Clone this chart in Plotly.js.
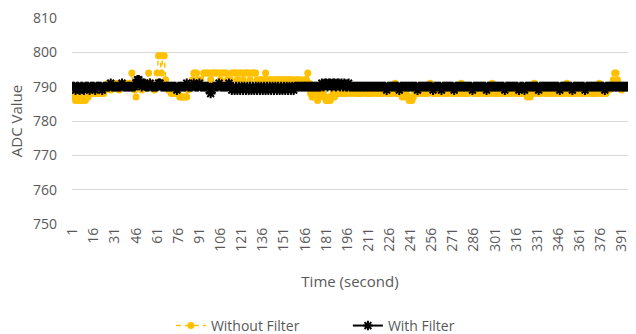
<!DOCTYPE html>
<html>
<head>
<meta charset="utf-8">
<script src="https://cdn.plot.ly/plotly-3.0.1.min.js"></script>
<style>html,body{margin:0;padding:0;background:#fff;}#chart{width:636px;height:334px;}</style>
</head>
<body>
<div id="chart"></div>
<script>
const withoutFilter = [
788,787,786,787,786,787,786,786,787,786,787,787,788,788,789,788,788,789,788,788,
789,788,788,789,790,791,790,789,790,791,790,791,790,789,790,791,790,791,790,791,
790,791,794,790,789,787,790,791,790,789,790,791,790,791,794,790,791,790,789,790,
794,799,799,794,799,799,792,790,789,789,788,789,788,788,789,788,787,787,787,787,
787,787,789,790,791,792,794,794,794,792,791,792,790,794,794,794,794,794,792,794,
794,794,794,794,794,792,794,794,794,794,792,791,792,794,794,794,794,792,794,794,
794,792,794,794,794,794,792,794,794,794,794,792,791,792,792,791,792,794,792,791,
792,792,791,792,792,791,792,792,792,791,792,792,791,792,792,792,791,792,791,792,
792,791,792,791,790,792,792,794,791,788,787,787,788,787,786,787,788,789,788,787,
786,786,787,786,787,788,787,788,789,788,789,788,789,788,789,788,789,789,788,789,
789,788,789,788,788,789,788,789,789,788,789,788,789,788,789,789,788,789,788,789,
788,789,790,788,789,788,789,788,789,791,788,789,788,788,787,788,787,788,787,786,
787,786,787,788,789,788,789,790,788,789,788,789,788,789,791,789,788,789,788,789,
788,789,790,788,789,788,789,788,790,789,788,789,788,789,788,789,791,788,789,788,
789,788,789,790,789,788,789,788,789,788,790,789,788,789,788,789,788,789,791,788,
789,788,789,788,789,790,788,789,788,789,788,789,788,790,789,788,789,788,789,788,
789,788,788,787,788,787,788,789,791,788,789,788,789,788,789,790,788,789,788,789,
788,789,788,790,789,788,789,788,789,788,789,791,788,789,788,789,788,789,788,790,
789,788,789,788,789,788,790,789,788,789,788,789,788,789,791,788,789,788,789,788,
790,789,790,790,792,794,794,792,790,790,789,790,790,790,790
];
const withFilter = [
790,790,789,790,790,789,790,790,789,790,790,790,789,790,790,790,789,790,790,790,
790,789,790,790,790,790,790,791,790,790,790,790,790,790,790,791,790,790,790,790,
790,790,790,790,790,791,792,792,791,790,791,791,790,790,790,791,790,790,790,790,
790,791,791,790,790,790,790,790,790,790,790,790,790,790,789,790,790,790,790,790,
790,791,790,790,790,790,791,790,790,790,791,790,790,790,790,790,790,789,788,789,
790,790,790,790,791,790,790,790,790,790,790,791,790,789,790,789,790,789,790,789,
790,789,790,789,790,789,790,789,790,789,790,789,790,789,790,789,790,789,790,789,
790,789,790,789,790,789,790,789,790,789,790,789,790,789,790,789,790,789,790,790,
790,790,790,790,790,790,790,790,790,790,790,790,790,790,790,790,790,791,790,791,
791,790,791,791,790,791,791,790,791,791,790,791,790,791,790,790,791,790,790,790,
790,790,790,790,790,790,790,790,790,790,790,790,790,790,790,790,790,790,790,790,
790,790,790,789,790,790,790,790,790,790,790,790,789,790,790,790,790,790,790,790,
790,790,790,790,790,789,790,790,790,790,790,790,790,790,790,790,789,790,790,790,
790,790,789,790,790,790,790,790,790,790,790,789,790,790,790,790,790,790,790,790,
790,790,790,790,789,790,790,790,790,790,790,790,790,790,789,790,790,790,790,790,
790,790,790,790,790,790,790,789,790,790,790,790,790,790,790,790,790,789,790,790,
790,789,790,790,790,790,790,790,790,790,790,789,790,790,790,790,790,790,790,790,
790,790,790,790,790,790,789,790,790,790,790,790,790,790,790,789,790,790,790,790,
790,790,790,790,789,790,790,790,790,790,790,790,790,790,790,790,790,790,789,790,
790,790,790,790,790,790,790,790,790,790,790,790,790,790,790
];
const xTickVals = [1,16,31,46,61,76,91,106,121,136,151,166,181,196,211,226,241,256,271,286,301,316,331,346,361,376,391];
const yTickVals = [750,760,770,780,790,800,810];

const seconds = withoutFilter.map((_, i) => i + 1);
const FONT = '"Open Sans", sans-serif';
const GREY = '#595959';

const traces = [
  {
    x: seconds, y: withoutFilter, name: 'Without Filter', type: 'scatter', mode: 'lines+markers',
    line: {color: '#FFC000', width: 1.5, dash: '5px,4px'},
    marker: {color: '#FFC000', size: 7, symbol: 'circle'}
  },
  {
    x: seconds, y: withFilter, name: 'With Filter', type: 'scatter', mode: 'lines+markers',
    line: {color: '#000000', width: 2},
    marker: {color: '#000000', size: 8, symbol: 'asterisk-open', line: {color: '#000000', width: 2}}
  }
];

const layout = {
  width: 636, height: 334,
  margin: {l: 72, r: 8, t: 18, b: 110, autoexpand: false},
  paper_bgcolor: '#ffffff', plot_bgcolor: '#ffffff',
  font: {family: FONT, size: 14, color: GREY},
  showlegend: true,
  legend: {orientation: 'h', x: 0.547, xref: 'container', xanchor: 'center', yref: 'container', y: 0.072, yanchor: 'top',
           font: {family: FONT, size: 14, color: GREY}, traceorder: 'normal',
           entrywidth: 132, entrywidthmode: 'pixels'},
  xaxis: {
    range: [0.5, withoutFilter.length + 0.5], tickmode: 'array', tickvals: xTickVals,
    ticktext: xTickVals.map(String), tickangle: -90, showgrid: false, zeroline: false,
    showline: false, ticks: '', tickfont: {family: FONT, size: 14, color: GREY},
    title: {text: 'Time (second)', font: {family: FONT, size: 15, color: GREY}, standoff: 25}
  },
  yaxis: {
    range: [750, 810], tickmode: 'array', tickvals: yTickVals, showgrid: true, gridcolor: '#D9D9D9',
    gridwidth: 1, zeroline: false, showline: false, ticks: '', ticklabelstandoff: 14,
    tickfont: {family: FONT, size: 14, color: GREY},
    title: {text: 'ADC Value', font: {family: FONT, size: 15, color: GREY}, standoff: 6}
  }
};

Plotly.newPlot('chart', traces, layout, {displayModeBar: false, staticPlot: true});
</script>
</body>
</html>
